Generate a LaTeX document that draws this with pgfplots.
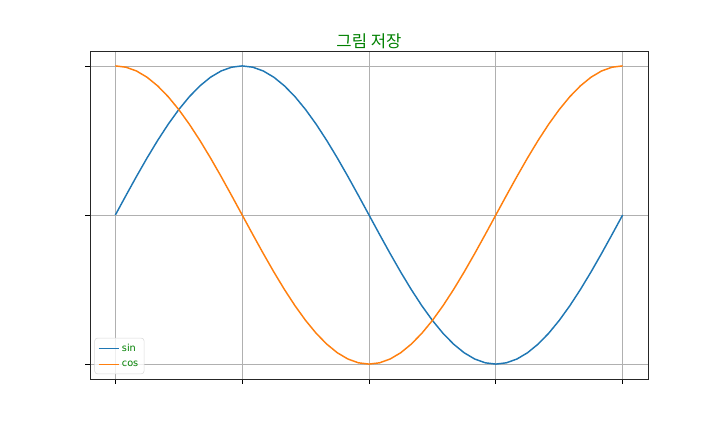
\documentclass[border=0pt]{standalone}
\usepackage{pgfplots}
\usepackage{pgfplotstable}
\pgfplotsset{compat=1.18}
\usepackage{fontspec}
\setmainfont{DejaVu Sans}
\newfontfamily\krfont{Noto Sans CJK KR}
\definecolor{mplblue}{HTML}{1F77B4}
\definecolor{mplorange}{HTML}{FF7F0E}
\definecolor{mplgreen}{HTML}{008000}
\definecolor{gridgray}{HTML}{B0B0B0}

% x in radians, sin and cos
\pgfplotstableread{
x sin cos
0 0 1
0.1309 0.1305 0.9914
0.2618 0.2588 0.9659
0.3927 0.3827 0.9239
0.5236 0.5 0.8660
0.6545 0.6088 0.7934
0.7854 0.7071 0.7071
0.9163 0.7934 0.6088
1.0472 0.8660 0.5
1.1781 0.9239 0.3827
1.3090 0.9659 0.2588
1.4399 0.9914 0.1305
1.5708 1 0
1.7017 0.9914 -0.1305
1.8326 0.9659 -0.2588
1.9635 0.9239 -0.3827
2.0944 0.8660 -0.5
2.2253 0.7934 -0.6088
2.3562 0.7071 -0.7071
2.4871 0.6088 -0.7934
2.6180 0.5 -0.8660
2.7489 0.3827 -0.9239
2.8798 0.2588 -0.9659
3.0107 0.1305 -0.9914
3.1416 0 -1
3.2725 -0.1305 -0.9914
3.4034 -0.2588 -0.9659
3.5343 -0.3827 -0.9239
3.6652 -0.5 -0.8660
3.7961 -0.6088 -0.7934
3.9270 -0.7071 -0.7071
4.0579 -0.7934 -0.6088
4.1888 -0.8660 -0.5
4.3197 -0.9239 -0.3827
4.4506 -0.9659 -0.2588
4.5815 -0.9914 -0.1305
4.7124 -1 0
4.8433 -0.9914 0.1305
4.9742 -0.9659 0.2588
5.1051 -0.9239 0.3827
5.2360 -0.8660 0.5
5.3669 -0.7934 0.6088
5.4978 -0.7071 0.7071
5.6287 -0.6088 0.7934
5.7596 -0.5 0.8660
5.8905 -0.3827 0.9239
6.0214 -0.2588 0.9659
6.1523 -0.1305 0.9914
6.2832 0 1
}\trig

\begin{document}
\begin{tikzpicture}
\path (0,0) rectangle (540pt,324pt);
\begin{axis}[
    at={(67.5pt,39.75pt)}, anchor=south west,
    scale only axis,
    width=418.5pt, height=246pt,
    xmin=-0.31416, xmax=6.59736,
    ymin=-1.1, ymax=1.1,
    xtick={0,1.5708,3.1416,4.7124,6.2832},
    ytick={-1,0,1},
    xticklabels={}, yticklabels={},
    xtick pos=bottom, ytick pos=left,
    tick align=outside,
    major tick length=3.6pt,
    tick style={black, line width=0.6pt},
    axis line style={black!85, line width=0.6pt},
    grid=major,
    grid style={gridgray, line width=0.6pt},
    title={\krfont\color{mplgreen}그림 저장},
    title style={font=\fontsize{12.5}{14}\selectfont, yshift=-8pt},
    legend style={font=\fontsize{7.3}{8.5}\selectfont, text=mplgreen,
        draw=black!15, rounded corners=2pt, fill=white, fill opacity=0.8,
        text opacity=1, inner sep=2.3pt, row sep=1.5pt,
        at={(0.008,0.015)}, anchor=south west},
    legend cell align=left,
    legend image code/.code={\draw[#1, line width=1.1pt] (0pt,0pt) -- (15pt,0pt);},
]
\addplot[mplblue, line width=1.1pt] table[x=x, y=sin] {\trig};
\addlegendentry{sin}
\addplot[mplorange, line width=1.1pt] table[x=x, y=cos] {\trig};
\addlegendentry{cos}
\end{axis}
\end{tikzpicture}
\end{document}
